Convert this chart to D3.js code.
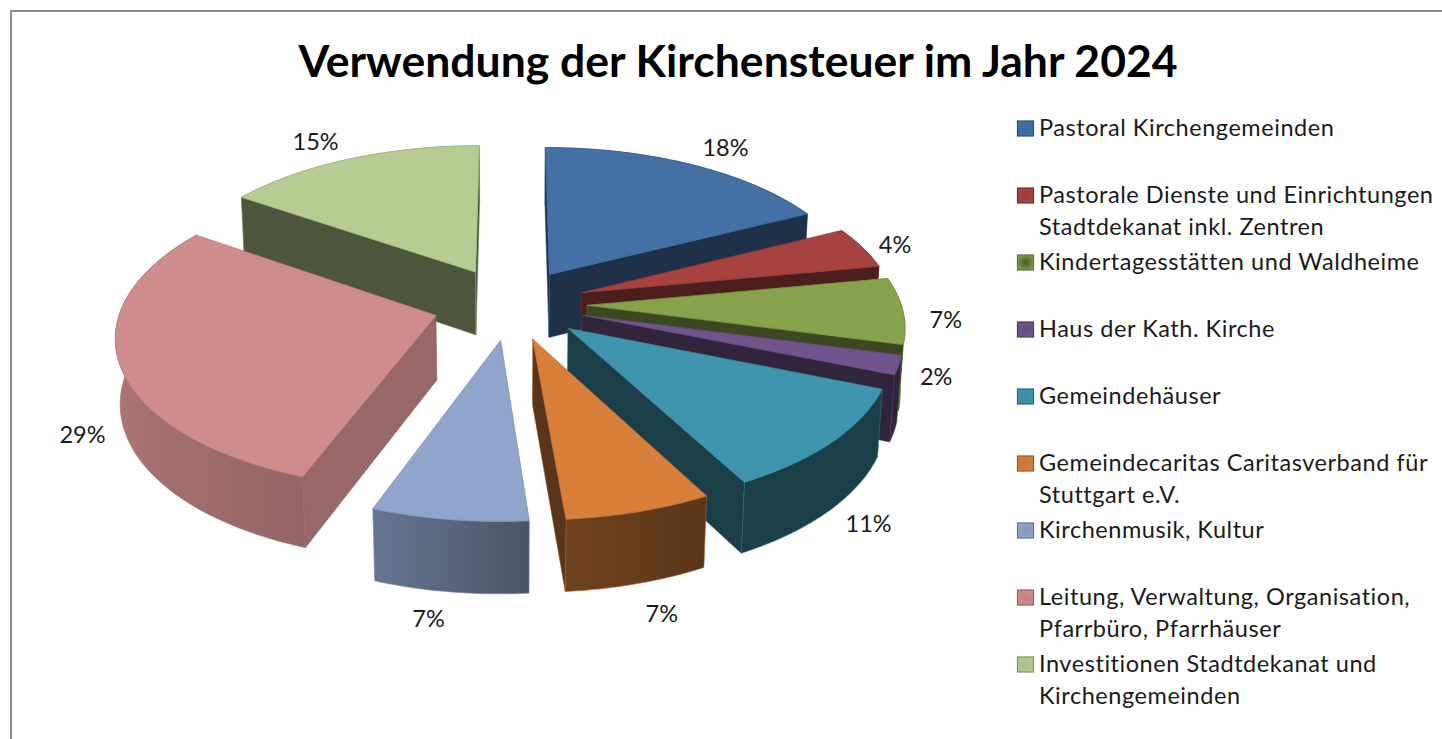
<!DOCTYPE html>
<html><head><meta charset="utf-8">
<script src="https://cdn.jsdelivr.net/npm/d3@7"></script>
<style>html,body{margin:0;padding:0;background:#fff;overflow:hidden}</style>
</head><body><svg id="c" width="1442" height="739"></svg>
<script>
const title = "Verwendung der Kirchensteuer im Jahr 2024";
const categories = [
  ["Pastoral Kirchengemeinden"],
  ["Pastorale Dienste und Einrichtungen","Stadtdekanat inkl. Zentren"],
  ["Kindertagesstätten und Waldheime"],
  ["Haus der Kath. Kirche"],
  ["Gemeindehäuser"],
  ["Gemeindecaritas Caritasverband für","Stuttgart e.V."],
  ["Kirchenmusik, Kultur"],
  ["Leitung, Verwaltung, Organisation,","Pfarrbüro, Pfarrhäuser"],
  ["Investitionen Stadtdekanat und","Kirchengemeinden"]
];
const values = [17.6,4.45,7.05,2,11.1,6.5,6.9,28.95,15.45];
const colors = ["#4470A6","#A64340","#86A34B","#70558C","#3F95AD","#D77F3B","#90A5CC","#CE8D8C","#B8CB92"];
const swatchCore = [.94,.94,.62,.94,.94,.94,.94,.94,.94];
const wallShade = [.44,.46,.44,.43,.42,.42,.73,.74,.42];
const explosions = [75,75,76,75,75,75,75,78,78];
const labelRadius = [451,427,433,425,432,436,430,432,455];
const labelDrop = [0,.04,.12,.08,.93,1,1,.97,0];
const labelTurn = [1.4,0,0,0,0,-.7,1.6,0,-1.9];

const cx=511, cy=304, R=314, p=.00039, q=.475, depth=65, pd=.012;
const svg=d3.select("#c");
const defs=svg.append("defs");
const rad=d=>d*Math.PI/180;
const arcShade=d3.scaleLinear().domain([0,111,151,176,201,270,360]).range([.42,.42,.42,.52,.72,.88,.88]);

function project(X,Z,H){
  const w=1+p*Z+pd*H;
  return [cx+X/w, cy+(-q*Z+depth*H)/w];
}
const shade=(c,f)=>{const k=d3.rgb(c);return d3.rgb(k.r*f,k.g*f,k.b*f).formatHex();};
const line=d3.line();
const closed=pts=>line(pts)+"Z";

svg.append("rect").attr("x",11).attr("y",11).attr("width",1500).attr("height",800)
  .attr("fill","#fff").attr("stroke","#8c8c8c").attr("stroke-width",2);

svg.append("text").attr("x",738).attr("y",77).attr("text-anchor","middle")
  .attr("font-family","Lato").attr("font-weight",700).attr("font-size",44.5).attr("fill","#000").text(title);

const arcs=d3.pie().sort(null)(values).map((d,i)=>{
  const a0=d.startAngle,a1=d.endAngle,m=(a0+a1)/2;
  return {i,a0,a1,m,ox:explosions[i]*Math.sin(m),oz:explosions[i]*Math.cos(m)};
});
const order=arcs.slice().sort((a,b)=>Math.cos(b.m)-Math.cos(a.m));

order.forEach(s=>{
  const col=colors[s.i];
  const g=svg.append("g");
  const pt=(r,a,H)=>project(s.ox+r*Math.sin(a),s.oz+r*Math.cos(a),H);
  const n=Math.max(4,Math.ceil((s.a1-s.a0)/rad(1.5)));
  const angs=d3.range(n+1).map(k=>s.a0+(s.a1-s.a0)*k/n);
  const topArc=angs.map(a=>pt(R,a,0));
  const botArc=angs.map(a=>pt(R,a,1));

  // outer wall gradient over the part of the arc that faces the viewer
  const gid="g"+s.i;
  const deg=a=>a*180/Math.PI;
  let front=angs.filter(a=>Math.cos(a)<0);
  if(front.length<2) front=[s.a0,s.a1];
  const fx=front.map(a=>pt(R,a,0)[0]);
  const x0=d3.min(fx),x1=d3.max(fx);
  const gr=defs.append("linearGradient").attr("id",gid).attr("gradientUnits","userSpaceOnUse")
    .attr("x1",x0).attr("x2",x1).attr("y1",0).attr("y2",0);
  front.map((a,k)=>({o:(fx[k]-x0)/Math.max(1,x1-x0),c:shade(col,arcShade(deg(a)))}))
    .sort((u,v)=>u.o-v.o)
    .forEach(t=>gr.append("stop").attr("offset",t.o).attr("stop-color",t.c));
  g.append("path").attr("d",closed(topArc.concat(botArc.slice().reverse())))
    .attr("fill",`url(#${gid})`).attr("stroke",shade(col,.8)).attr("stroke-width",.6);

  // radial walls, only when they face the viewer
  const apexT=pt(0,0,0), apexB=pt(0,0,1);
  const inner=pt(R*.7,s.m,0);
  [s.a0,s.a1].forEach(a=>{
    const oT=pt(R,a,0), oB=pt(R,a,1);
    const ex=oT[0]-apexT[0], ey=oT[1]-apexT[1];
    const c1=ex*(inner[1]-apexT[1])-ey*(inner[0]-apexT[0]);
    const c2=ex*(apexB[1]-apexT[1])-ey*(apexB[0]-apexT[0]);
    if(c1*c2<0){
      g.append("path").attr("d",closed([apexT,oT,oB,apexB]))
        .attr("fill",shade(col,wallShade[s.i])).attr("stroke",shade(col,.7)).attr("stroke-width",.5);
    }
  });
  // top face
  g.append("path").attr("d",closed([apexT].concat(topArc)))
    .attr("fill",col).attr("stroke",shade(col,.88)).attr("stroke-width",.8).attr("stroke-linejoin","round");
});

// data labels
arcs.forEach(s=>{
  const a=s.m+rad(labelTurn[s.i]), r=labelRadius[s.i];
  const P=project(r*Math.sin(a),r*Math.cos(a),labelDrop[s.i]);
  svg.append("text").attr("x",P[0]).attr("y",P[1]).attr("dy","0.35em").attr("text-anchor","middle")
    .attr("font-family","Lato").attr("font-size",23.5).attr("fill","#1a1a1a").text(Math.round(values[s.i])+"%");
});

// legend
const legY=d3.scaleLinear().domain([0,8]).range([128,664]);
categories.forEach((lines,i)=>{
  const y=legY(i);
  const rg=defs.append("radialGradient").attr("id","sw"+i).attr("r",.6);
  rg.append("stop").attr("offset",.2).attr("stop-color",shade(colors[i],swatchCore[i]));
  rg.append("stop").attr("offset",1).attr("stop-color",colors[i]);
  svg.append("rect").attr("x",1017.5).attr("y",y-7).attr("width",16).attr("height",15)
    .attr("fill",`url(#sw${i})`).attr("stroke",shade(colors[i],.7)).attr("stroke-width",1.2);
  lines.forEach((t,k)=>{
    svg.append("text").attr("x",1039).attr("y",y+7.5+k*32).attr("font-family","Lato")
      .attr("font-size",23.5).attr("letter-spacing",".55px").attr("fill","#1a1a1a").text(t);
  });
});
</script></body></html>
